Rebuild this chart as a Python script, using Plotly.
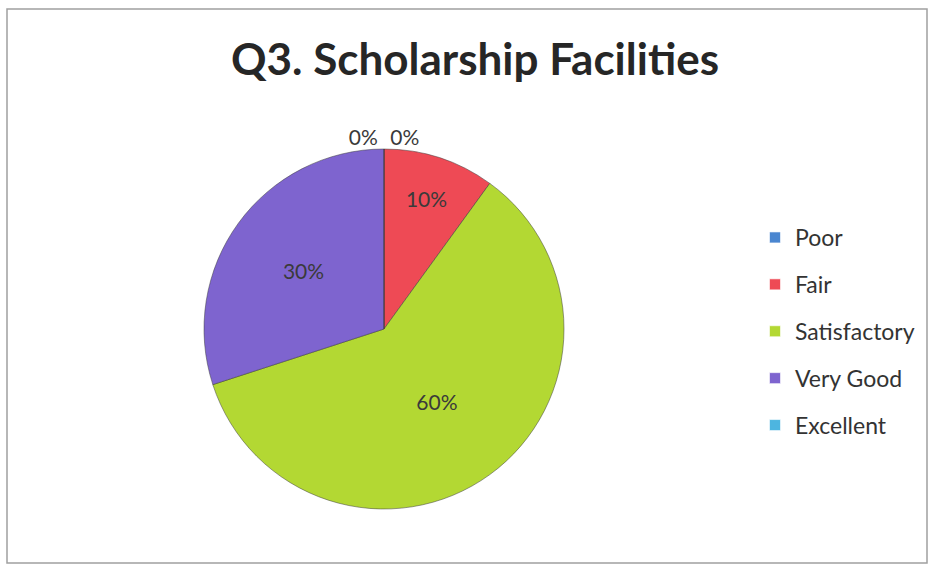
import plotly.graph_objects as go

categories = ["Poor", "Fair", "Satisfactory", "Very Good", "Excellent"]
values = [0, 10, 60, 30, 0]
colors = ["#4A86D0", "#EE4A55", "#B3D833", "#7E64CF", "#4DB5E0"]
title_text = "Q3. Scholarship Facilities"

W, H = 930, 567

fig = go.Figure()

fig.add_trace(go.Pie(
    labels=categories,
    values=values,
    sort=False,
    direction="clockwise",
    rotation=0,
    marker=dict(colors=colors, line=dict(color="rgba(60,60,60,0.5)", width=1)),
    texttemplate="%{value}%",
    textposition=["outside", "inside", "inside", "inside", "outside"],
    insidetextorientation="horizontal",
    textfont=dict(family="Lato", size=21, color="#3a3a3a"),
    outsidetextfont=dict(family="Lato", size=21, color="#3a3a3a"),
    showlegend=False,
    hoverinfo="label+percent",
    domain=dict(x=[204 / W, 564 / W], y=[1 - 510 / H, 1 - 148 / H]),
))

# legend entries (square markers), one group per category for even spacing
for name, col in zip(categories, colors):
    fig.add_trace(go.Scatter(
        x=[None], y=[None], mode="markers", name=name, legendgroup=name,
        marker=dict(symbol="square", size=11, color=col,
                    line=dict(color="rgba(255,255,255,0.6)", width=1)),
    ))

fig.update_layout(
    width=W, height=H,
    margin=dict(l=0, r=0, t=0, b=0),
    paper_bgcolor="white",
    plot_bgcolor="white",
    title=dict(text="<b>" + title_text + "</b>", x=475 / W, xanchor="center",
               y=1 - 60 / H, yanchor="middle",
               font=dict(family="Lato", size=44, color="#262626")),
    xaxis=dict(visible=False),
    yaxis=dict(visible=False),
    legend=dict(x=755 / W, xanchor="left", y=1 - 216 / H, yanchor="top",
                font=dict(family="Lato", size=23, color="#333333"),
                tracegroupgap=14, bgcolor="rgba(0,0,0,0)"),
    shapes=[dict(type="rect", xref="paper", yref="paper",
                 x0=7 / W, x1=927 / W, y0=1 - 563 / H, y1=1 - 9 / H,
                 line=dict(color="#a0a0a0", width=1.5), fillcolor="rgba(0,0,0,0)",
                 layer="below")],
)

fig.write_html("out.html", config={"displayModeBar": False},
               post_script="document.body.style.margin='0';document.body.style.padding='0';")
